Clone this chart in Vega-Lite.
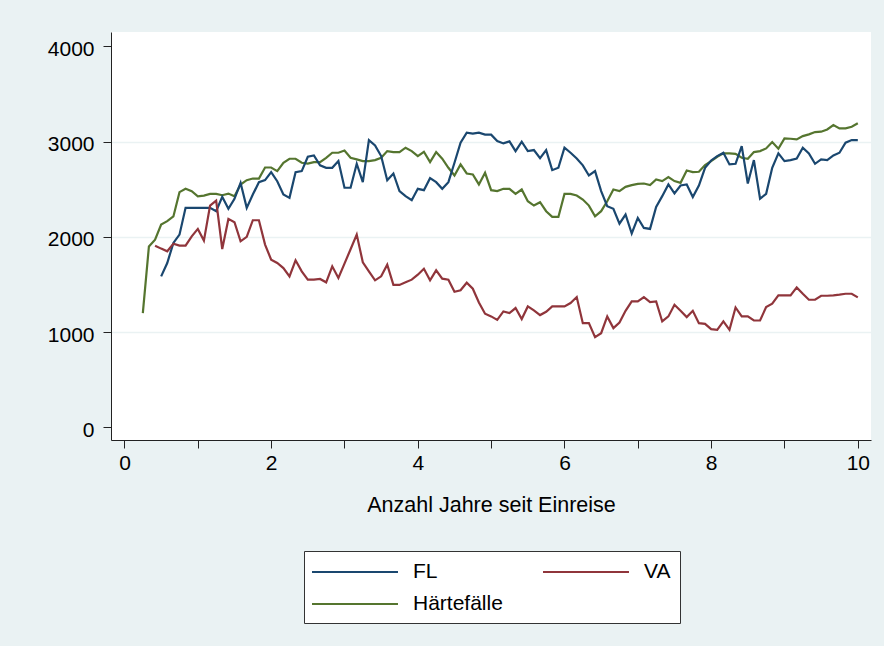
{
  "$schema": "https://vega.github.io/schema/vega-lite/v6.json",
  "width": 760,
  "height": 408,
  "autosize": {"type": "none"},
  "padding": {"left": 111, "top": 32, "right": 13, "bottom": 206},
  "background": "#EAF2F3",
  "config": {
    "view": {"stroke": null, "fill": "white"},
    "font": "Liberation Sans"
  },
  "data": {"values": [
{"s":"Härtefälle","x":0.25,"y":1200},{"s":"Härtefälle","x":0.333,"y":1900},{"s":"Härtefälle","x":0.417,"y":1970},{"s":"Härtefälle","x":0.5,"y":2130},{"s":"Härtefälle","x":0.583,"y":2165},{"s":"Härtefälle","x":0.667,"y":2215},{"s":"Härtefälle","x":0.75,"y":2470},{"s":"Härtefälle","x":0.833,"y":2505},{"s":"Härtefälle","x":0.917,"y":2480},{"s":"Härtefälle","x":1,"y":2427},
{"s":"Härtefälle","x":1.083,"y":2434},{"s":"Härtefälle","x":1.167,"y":2452},{"s":"Härtefälle","x":1.25,"y":2452},{"s":"Härtefälle","x":1.333,"y":2438},{"s":"Härtefälle","x":1.417,"y":2455},{"s":"Härtefälle","x":1.5,"y":2427},{"s":"Härtefälle","x":1.583,"y":2550},{"s":"Härtefälle","x":1.667,"y":2596},{"s":"Härtefälle","x":1.75,"y":2613},{"s":"Härtefälle","x":1.833,"y":2613},
{"s":"Härtefälle","x":1.917,"y":2729},{"s":"Härtefälle","x":2,"y":2729},{"s":"Härtefälle","x":2.083,"y":2691},{"s":"Härtefälle","x":2.167,"y":2779},{"s":"Härtefälle","x":2.25,"y":2821},{"s":"Härtefälle","x":2.333,"y":2821},{"s":"Härtefälle","x":2.417,"y":2779},{"s":"Härtefälle","x":2.5,"y":2770},{"s":"Härtefälle","x":2.583,"y":2785},{"s":"Härtefälle","x":2.667,"y":2785},
{"s":"Härtefälle","x":2.75,"y":2831},{"s":"Härtefälle","x":2.833,"y":2884},{"s":"Härtefälle","x":2.917,"y":2884},{"s":"Härtefälle","x":3,"y":2908},{"s":"Härtefälle","x":3.083,"y":2831},{"s":"Härtefälle","x":3.167,"y":2814},{"s":"Härtefälle","x":3.25,"y":2796},{"s":"Härtefälle","x":3.333,"y":2796},{"s":"Härtefälle","x":3.417,"y":2807},{"s":"Härtefälle","x":3.5,"y":2831},
{"s":"Härtefälle","x":3.583,"y":2901},{"s":"Härtefälle","x":3.667,"y":2891},{"s":"Härtefälle","x":3.75,"y":2891},{"s":"Härtefälle","x":3.833,"y":2937},{"s":"Härtefälle","x":3.917,"y":2901},{"s":"Härtefälle","x":4,"y":2849},{"s":"Härtefälle","x":4.083,"y":2894},{"s":"Härtefälle","x":4.167,"y":2785},{"s":"Härtefälle","x":4.25,"y":2891},{"s":"Härtefälle","x":4.333,"y":2821},
{"s":"Härtefälle","x":4.417,"y":2726},{"s":"Härtefälle","x":4.5,"y":2645},{"s":"Härtefälle","x":4.583,"y":2761},{"s":"Härtefälle","x":4.667,"y":2666},{"s":"Härtefälle","x":4.75,"y":2656},{"s":"Härtefälle","x":4.833,"y":2551},{"s":"Härtefälle","x":4.917,"y":2673},{"s":"Härtefälle","x":5,"y":2491},{"s":"Härtefälle","x":5.083,"y":2481},{"s":"Härtefälle","x":5.167,"y":2505},
{"s":"Härtefälle","x":5.25,"y":2505},{"s":"Härtefälle","x":5.333,"y":2452},{"s":"Härtefälle","x":5.417,"y":2498},{"s":"Härtefälle","x":5.5,"y":2375},{"s":"Härtefälle","x":5.583,"y":2329},{"s":"Härtefälle","x":5.667,"y":2364},{"s":"Härtefälle","x":5.75,"y":2270},{"s":"Härtefälle","x":5.833,"y":2210},{"s":"Härtefälle","x":5.917,"y":2210},{"s":"Härtefälle","x":6,"y":2452},
{"s":"Härtefälle","x":6.083,"y":2452},{"s":"Härtefälle","x":6.167,"y":2435},{"s":"Härtefälle","x":6.25,"y":2392},{"s":"Härtefälle","x":6.333,"y":2329},{"s":"Härtefälle","x":6.417,"y":2217},{"s":"Härtefälle","x":6.5,"y":2270},{"s":"Härtefälle","x":6.583,"y":2375},{"s":"Härtefälle","x":6.667,"y":2498},{"s":"Härtefälle","x":6.75,"y":2481},{"s":"Härtefälle","x":6.833,"y":2526},
{"s":"Härtefälle","x":6.917,"y":2544},{"s":"Härtefälle","x":7,"y":2557},{"s":"Härtefälle","x":7.083,"y":2561},{"s":"Härtefälle","x":7.167,"y":2544},{"s":"Härtefälle","x":7.25,"y":2603},{"s":"Härtefälle","x":7.333,"y":2586},{"s":"Härtefälle","x":7.417,"y":2628},{"s":"Härtefälle","x":7.5,"y":2586},{"s":"Härtefälle","x":7.583,"y":2568},{"s":"Härtefälle","x":7.667,"y":2698},
{"s":"Härtefälle","x":7.75,"y":2680},{"s":"Härtefälle","x":7.833,"y":2684},{"s":"Härtefälle","x":7.917,"y":2754},{"s":"Härtefälle","x":8,"y":2796},{"s":"Härtefälle","x":8.083,"y":2842},{"s":"Härtefälle","x":8.167,"y":2877},{"s":"Härtefälle","x":8.25,"y":2877},{"s":"Härtefälle","x":8.333,"y":2873},{"s":"Härtefälle","x":8.417,"y":2831},{"s":"Härtefälle","x":8.5,"y":2821},
{"s":"Härtefälle","x":8.583,"y":2891},{"s":"Härtefälle","x":8.667,"y":2901},{"s":"Härtefälle","x":8.75,"y":2929},{"s":"Härtefälle","x":8.833,"y":2996},{"s":"Härtefälle","x":8.917,"y":2926},{"s":"Härtefälle","x":9,"y":3035},{"s":"Härtefälle","x":9.083,"y":3031},{"s":"Härtefälle","x":9.167,"y":3024},{"s":"Härtefälle","x":9.25,"y":3059},{"s":"Härtefälle","x":9.333,"y":3077},
{"s":"Härtefälle","x":9.417,"y":3101},{"s":"Härtefälle","x":9.5,"y":3105},{"s":"Härtefälle","x":9.583,"y":3129},{"s":"Härtefälle","x":9.667,"y":3175},{"s":"Härtefälle","x":9.75,"y":3140},{"s":"Härtefälle","x":9.833,"y":3140},{"s":"Härtefälle","x":9.917,"y":3157},{"s":"Härtefälle","x":10,"y":3193},
{"s":"FL","x":0.5,"y":1585},{"s":"FL","x":0.583,"y":1726},{"s":"FL","x":0.667,"y":1937},{"s":"FL","x":0.75,"y":2024},{"s":"FL","x":0.833,"y":2305},{"s":"FL","x":0.917,"y":2305},{"s":"FL","x":1,"y":2305},{"s":"FL","x":1.083,"y":2305},{"s":"FL","x":1.167,"y":2305},{"s":"FL","x":1.25,"y":2270},
{"s":"FL","x":1.333,"y":2421},{"s":"FL","x":1.417,"y":2295},{"s":"FL","x":1.5,"y":2400},{"s":"FL","x":1.583,"y":2568},{"s":"FL","x":1.667,"y":2305},{"s":"FL","x":1.75,"y":2445},{"s":"FL","x":1.833,"y":2575},{"s":"FL","x":1.917,"y":2596},{"s":"FL","x":2,"y":2680},{"s":"FL","x":2.083,"y":2585},
{"s":"FL","x":2.167,"y":2445},{"s":"FL","x":2.25,"y":2410},{"s":"FL","x":2.333,"y":2680},{"s":"FL","x":2.417,"y":2691},{"s":"FL","x":2.5,"y":2842},{"s":"FL","x":2.583,"y":2856},{"s":"FL","x":2.667,"y":2751},{"s":"FL","x":2.75,"y":2726},{"s":"FL","x":2.833,"y":2726},{"s":"FL","x":2.917,"y":2796},
{"s":"FL","x":3,"y":2516},{"s":"FL","x":3.083,"y":2516},{"s":"FL","x":3.167,"y":2768},{"s":"FL","x":3.25,"y":2575},{"s":"FL","x":3.333,"y":3017},{"s":"FL","x":3.417,"y":2961},{"s":"FL","x":3.5,"y":2849},{"s":"FL","x":3.583,"y":2596},{"s":"FL","x":3.667,"y":2666},{"s":"FL","x":3.75,"y":2481},
{"s":"FL","x":3.833,"y":2428},{"s":"FL","x":3.917,"y":2386},{"s":"FL","x":4,"y":2505},{"s":"FL","x":4.083,"y":2491},{"s":"FL","x":4.167,"y":2617},{"s":"FL","x":4.25,"y":2575},{"s":"FL","x":4.333,"y":2505},{"s":"FL","x":4.417,"y":2575},{"s":"FL","x":4.5,"y":2779},{"s":"FL","x":4.583,"y":2989},
{"s":"FL","x":4.667,"y":3095},{"s":"FL","x":4.75,"y":3084},{"s":"FL","x":4.833,"y":3095},{"s":"FL","x":4.917,"y":3074},{"s":"FL","x":5,"y":3074},{"s":"FL","x":5.083,"y":3007},{"s":"FL","x":5.167,"y":2982},{"s":"FL","x":5.25,"y":3003},{"s":"FL","x":5.333,"y":2901},{"s":"FL","x":5.417,"y":3000},
{"s":"FL","x":5.5,"y":2901},{"s":"FL","x":5.583,"y":2912},{"s":"FL","x":5.667,"y":2828},{"s":"FL","x":5.75,"y":2912},{"s":"FL","x":5.833,"y":2701},{"s":"FL","x":5.917,"y":2726},{"s":"FL","x":6,"y":2937},{"s":"FL","x":6.083,"y":2884},{"s":"FL","x":6.167,"y":2824},{"s":"FL","x":6.25,"y":2751},
{"s":"FL","x":6.333,"y":2645},{"s":"FL","x":6.417,"y":2691},{"s":"FL","x":6.5,"y":2481},{"s":"FL","x":6.583,"y":2322},{"s":"FL","x":6.667,"y":2295},{"s":"FL","x":6.75,"y":2140},{"s":"FL","x":6.833,"y":2235},{"s":"FL","x":6.917,"y":2036},{"s":"FL","x":7,"y":2200},{"s":"FL","x":7.083,"y":2094},
{"s":"FL","x":7.167,"y":2084},{"s":"FL","x":7.25,"y":2315},{"s":"FL","x":7.333,"y":2428},{"s":"FL","x":7.417,"y":2551},{"s":"FL","x":7.5,"y":2456},{"s":"FL","x":7.583,"y":2540},{"s":"FL","x":7.667,"y":2551},{"s":"FL","x":7.75,"y":2419},{"s":"FL","x":7.833,"y":2540},{"s":"FL","x":7.917,"y":2726},
{"s":"FL","x":8,"y":2803},{"s":"FL","x":8.083,"y":2849},{"s":"FL","x":8.167,"y":2884},{"s":"FL","x":8.25,"y":2761},{"s":"FL","x":8.333,"y":2768},{"s":"FL","x":8.417,"y":2954},{"s":"FL","x":8.5,"y":2561},{"s":"FL","x":8.583,"y":2807},{"s":"FL","x":8.667,"y":2402},{"s":"FL","x":8.75,"y":2452},
{"s":"FL","x":8.833,"y":2726},{"s":"FL","x":8.917,"y":2877},{"s":"FL","x":9,"y":2796},{"s":"FL","x":9.083,"y":2807},{"s":"FL","x":9.167,"y":2824},{"s":"FL","x":9.25,"y":2937},{"s":"FL","x":9.333,"y":2877},{"s":"FL","x":9.417,"y":2768},{"s":"FL","x":9.5,"y":2814},{"s":"FL","x":9.583,"y":2807},
{"s":"FL","x":9.667,"y":2856},{"s":"FL","x":9.75,"y":2884},{"s":"FL","x":9.833,"y":2989},{"s":"FL","x":9.917,"y":3017},{"s":"FL","x":10,"y":3017},
{"s":"VA","x":0.417,"y":1908},{"s":"VA","x":0.5,"y":1877},{"s":"VA","x":0.583,"y":1849},{"s":"VA","x":0.667,"y":1929},{"s":"VA","x":0.75,"y":1908},{"s":"VA","x":0.833,"y":1908},{"s":"VA","x":0.917,"y":2006},{"s":"VA","x":1,"y":2084},{"s":"VA","x":1.083,"y":1961},{"s":"VA","x":1.167,"y":2329},
{"s":"VA","x":1.25,"y":2382},{"s":"VA","x":1.333,"y":1873},{"s":"VA","x":1.417,"y":2189},{"s":"VA","x":1.5,"y":2154},{"s":"VA","x":1.583,"y":1954},{"s":"VA","x":1.667,"y":2000},{"s":"VA","x":1.75,"y":2175},{"s":"VA","x":1.833,"y":2175},{"s":"VA","x":1.917,"y":1919},{"s":"VA","x":2,"y":1761},
{"s":"VA","x":2.083,"y":1726},{"s":"VA","x":2.167,"y":1673},{"s":"VA","x":2.25,"y":1585},{"s":"VA","x":2.333,"y":1754},{"s":"VA","x":2.417,"y":1638},{"s":"VA","x":2.5,"y":1551},{"s":"VA","x":2.583,"y":1551},{"s":"VA","x":2.667,"y":1558},{"s":"VA","x":2.75,"y":1523},{"s":"VA","x":2.833,"y":1691},
{"s":"VA","x":2.917,"y":1568},{"s":"VA","x":3,"y":1720},{"s":"VA","x":3.083,"y":1870},{"s":"VA","x":3.167,"y":2024},{"s":"VA","x":3.25,"y":1733},{"s":"VA","x":3.333,"y":1638},{"s":"VA","x":3.417,"y":1544},{"s":"VA","x":3.5,"y":1586},{"s":"VA","x":3.583,"y":1708},{"s":"VA","x":3.667,"y":1496},
{"s":"VA","x":3.75,"y":1496},{"s":"VA","x":3.833,"y":1523},{"s":"VA","x":3.917,"y":1551},{"s":"VA","x":4,"y":1603},{"s":"VA","x":4.083,"y":1666},{"s":"VA","x":4.167,"y":1544},{"s":"VA","x":4.25,"y":1649},{"s":"VA","x":4.333,"y":1561},{"s":"VA","x":4.417,"y":1551},{"s":"VA","x":4.5,"y":1424},
{"s":"VA","x":4.583,"y":1440},{"s":"VA","x":4.667,"y":1519},{"s":"VA","x":4.75,"y":1456},{"s":"VA","x":4.833,"y":1312},{"s":"VA","x":4.917,"y":1193},{"s":"VA","x":5,"y":1165},{"s":"VA","x":5.083,"y":1129},{"s":"VA","x":5.167,"y":1217},{"s":"VA","x":5.25,"y":1200},{"s":"VA","x":5.333,"y":1253},
{"s":"VA","x":5.417,"y":1137},{"s":"VA","x":5.5,"y":1270},{"s":"VA","x":5.583,"y":1228},{"s":"VA","x":5.667,"y":1179},{"s":"VA","x":5.75,"y":1214},{"s":"VA","x":5.833,"y":1270},{"s":"VA","x":5.917,"y":1270},{"s":"VA","x":6,"y":1270},{"s":"VA","x":6.083,"y":1305},{"s":"VA","x":6.167,"y":1368},
{"s":"VA","x":6.25,"y":1094},{"s":"VA","x":6.333,"y":1094},{"s":"VA","x":6.417,"y":947},{"s":"VA","x":6.5,"y":989},{"s":"VA","x":6.583,"y":1165},{"s":"VA","x":6.667,"y":1042},{"s":"VA","x":6.75,"y":1101},{"s":"VA","x":6.833,"y":1224},{"s":"VA","x":6.917,"y":1322},{"s":"VA","x":7,"y":1322},
{"s":"VA","x":7.083,"y":1368},{"s":"VA","x":7.167,"y":1315},{"s":"VA","x":7.25,"y":1322},{"s":"VA","x":7.333,"y":1112},{"s":"VA","x":7.417,"y":1165},{"s":"VA","x":7.5,"y":1287},{"s":"VA","x":7.583,"y":1224},{"s":"VA","x":7.667,"y":1158},{"s":"VA","x":7.75,"y":1224},{"s":"VA","x":7.833,"y":1094},
{"s":"VA","x":7.917,"y":1087},{"s":"VA","x":8,"y":1031},{"s":"VA","x":8.083,"y":1024},{"s":"VA","x":8.167,"y":1112},{"s":"VA","x":8.25,"y":1024},{"s":"VA","x":8.333,"y":1259},{"s":"VA","x":8.417,"y":1165},{"s":"VA","x":8.5,"y":1165},{"s":"VA","x":8.583,"y":1122},{"s":"VA","x":8.667,"y":1122},
{"s":"VA","x":8.75,"y":1263},{"s":"VA","x":8.833,"y":1298},{"s":"VA","x":8.917,"y":1386},{"s":"VA","x":9,"y":1386},{"s":"VA","x":9.083,"y":1386},{"s":"VA","x":9.167,"y":1470},{"s":"VA","x":9.25,"y":1403},{"s":"VA","x":9.333,"y":1340},{"s":"VA","x":9.417,"y":1340},{"s":"VA","x":9.5,"y":1382},
{"s":"VA","x":9.583,"y":1382},{"s":"VA","x":9.667,"y":1386},{"s":"VA","x":9.75,"y":1393},{"s":"VA","x":9.833,"y":1403},{"s":"VA","x":9.917,"y":1403},{"s":"VA","x":10,"y":1365}
  ]},
  "mark": {"type": "line", "strokeWidth": 2.2, "interpolate": "linear", "clip": true},
  "encoding": {
    "x": {
      "field": "x", "type": "quantitative",
      "scale": {"domain": [-0.184, 10.18], "nice": false, "zero": false},
      "axis": {
        "values": [0,1,2,3,4,5,6,7,8,9,10],
        "labelExpr": "datum.value % 2 == 0 ? datum.label : ''",
        "grid": false,
        "title": "Anzahl Jahre seit Einreise",
        "titleFontSize": 21.5, "titleFontWeight": "normal", "titleColor": "#000", "titlePadding": 21,
        "labelFontSize": 21, "labelColor": "#000", "labelPadding": 4, "labelFlush": false, "labelOverlap": false,
        "tickSize": 8, "tickColor": "#222", "domainColor": "#222", "domainWidth": 1, "tickWidth": 1
      }
    },
    "y": {
      "field": "y", "type": "quantitative",
      "scale": {"domain": [-133, 4152], "nice": false, "zero": false},
      "axis": {
        "values": [0,1000,2000,3000,4000],
        "format": "d",
        "title": null,
        "grid": true, "gridColor": "#EAF2F3", "gridWidth": 1.5,
        "gridOpacity": {"condition": {"test": "datum.value == 0 || datum.value == 4000", "value": 0}, "value": 1},
        "labelFontSize": 21, "labelColor": "#000", "labelPadding": 9, "labelOffset": 3, "labelFlush": false,
        "tickSize": 8, "tickColor": "#222", "domainColor": "#222", "domainWidth": 1, "tickWidth": 1
      }
    },
    "color": {
      "field": "s", "type": "nominal",
      "scale": {"domain": ["FL","VA","Härtefälle"], "range": ["#1a476f","#90353b","#55752f"]},
      "legend": {
        "orient": "none", "legendX": 193, "legendY": 519,
        "title": null, "columns": 2, "direction": "horizontal",
        "symbolType": "M-4,0H4", "symbolSize": 462, "symbolStrokeWidth": 2.2, "symbolOffset": 30,
        "labelFontSize": 21, "labelColor": "#000", "labelOffset": 46,
        "fillColor": "white", "strokeColor": "#333", "padding": 9,
        "columnPadding": 35, "rowPadding": 10
      }
    },
    "order": {"field": "x", "type": "quantitative"}
  }
}
